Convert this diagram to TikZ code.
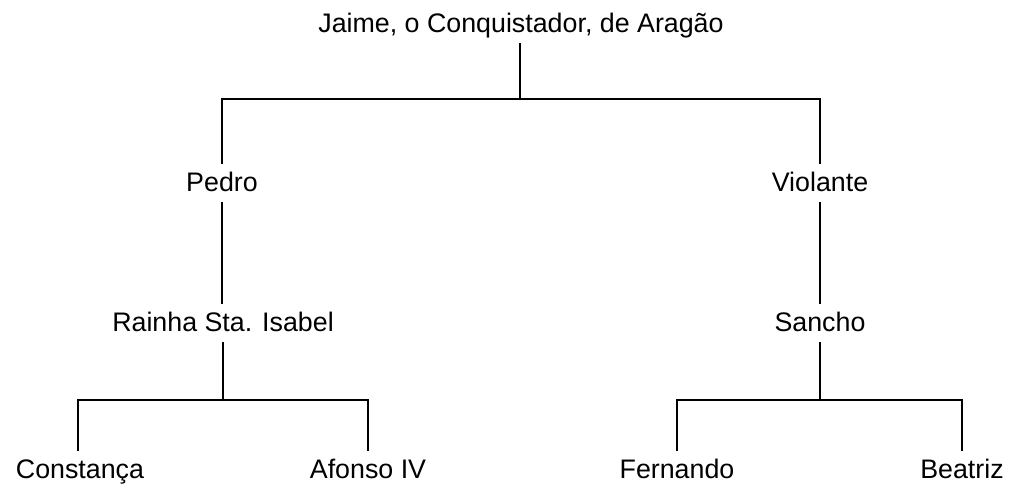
\documentclass[tikz,border=0pt]{standalone}
\usepackage{fontspec}
\setmainfont{Liberation Sans}
\begin{document}
\begin{tikzpicture}[x=1pt,y=1pt,
  person/.style={anchor=base,font=\fontsize{26.8}{30}\selectfont,
    text height=20pt,text depth=2pt,inner xsep=0pt,inner ysep=8pt},
  link/.style={line width=2.3pt,line cap=butt,line join=miter}]
\useasboundingbox (0,0) rectangle (1013,489);
% names (y = 489 - baseline in reference)
\node[person] (jaime) at (521,456) {Jaime, o Conquistador, de Aragão};
\node[person] (pedro) at (222,297) {Pedro};
\node[person] (violante) at (820,297) {Violante};
\node[person] (rainha) at (223,157) {Rainha Sta. Isabel};
\node[person] (sancho) at (820,157) {Sancho};
\node[person] (constanca) at (80,10) {Constança};
\node[person] (afonso) at (368,10) {Afonso IV};
\node[person] (fernando) at (677,10) {Fernando};
\node[person] (beatriz) at (962,10) {Beatriz};
% bar levels
\coordinate (b1) at (0,390);
\coordinate (b2) at (0,89);
% connectors
\draw[link] ([xshift=-1pt]jaime.south) -- ([xshift=-1pt]jaime.south |- b1);
\draw[link] (pedro.north) -- (pedro.north |- b1) -- (violante.north |- b1) -- (violante.north);
\draw[link] (pedro.south) -- (rainha.north -| pedro.south);
\draw[link] (violante.south) -- (sancho.north);
\draw[link] (rainha.south) -- (rainha.south |- b2);
\draw[link] ([xshift=-2pt]constanca.north) -- ([xshift=-2pt]constanca.north |- b2) -- (afonso.north |- b2) -- (afonso.north);
\draw[link] (sancho.south) -- (sancho.south |- b2);
\draw[link] (fernando.north) -- (fernando.north |- b2) -- (beatriz.north |- b2) -- (beatriz.north);
\end{tikzpicture}
\end{document}
